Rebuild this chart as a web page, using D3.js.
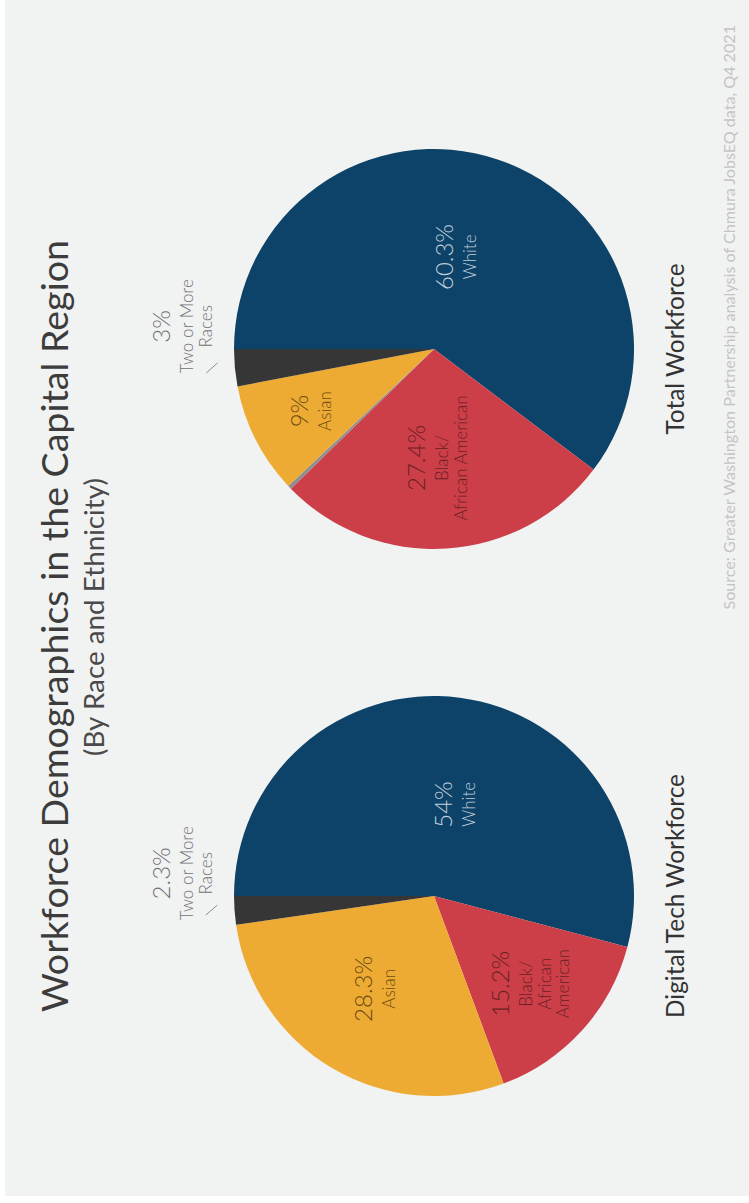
<!DOCTYPE html>
<html>
<head>
<meta charset="utf-8">
<script src="https://cdn.jsdelivr.net/npm/d3@7"></script>
<style>
  html, body { margin: 0; padding: 0; background: #ffffff; }
  svg { display: block; }
</style>
</head>
<body>
<svg id="chart"></svg>
<script>
// ---- data ----
const categories = ["White", "Black/African American", "Other", "Asian", "Two or More Races"];
const digitalTechValues = [54, 15.2, 0, 28.3, 2.3];
const totalWorkforceValues = [60.3, 27.4, 0.3, 9, 3];
const pieTitles = ["Digital Tech Workforce", "Total Workforce"];
const digitalTechLabelLines = [["White"], ["Black/", "African", "American"], [], ["Asian"], ["Two or More", "Races"]];
const totalWorkforceLabelLines = [["White"], ["Black/", "African American"], [], ["Asian"], ["Two or More", "Races"]];
const chartTitle = "Workforce Demographics in the Capital Region";
const chartSubtitle = "(By Race and Ethnicity)";
const sourceNote = "Source: Greater Washington Partnership analysis of Chmura JobsEQ data, Q4 2021";

// ---- styling ----
const W = 749, H = 1203;          // page size
const PW = H, PH = W;             // the poster is laid out sideways
const colors = {
  "White": "#0d4369",
  "Black/African American": "#cc3f48",
  "Other": "#8f8f8f",
  "Asian": "#eeab34",
  "Two or More Races": "#363636"
};
const labelColors = {
  "White": "#c3cfdc",
  "Black/African American": "#6a1f25",
  "Asian": "#6a4a12",
  "Two or More Races": "#6f7072"
};
// where each inside label sits: share of the radius, and a nudge off the slice's mid-angle
const labelPlacement = [
  { "White": { r: 0.47, da: 0.10 }, "Black/African American": { r: 0.653, da: 0 }, "Asian": { r: 0.55, da: 0.03 } },
  { "White": { r: 0.4725, da: -0.094 }, "Black/African American": { r: 0.545, da: 0.031 }, "Asian": { r: 0.69, da: 0.005 } }
];
const FONT = "Lato, 'Open Sans', sans-serif";

const svg = d3.select("#chart").attr("width", W).attr("height", H);

// rotate the whole poster a quarter turn counter-clockwise
const g = svg.append("g").attr("transform", `translate(0,${H}) rotate(-90)`);

g.append("rect")
  .attr("x", 7).attr("y", 5)
  .attr("width", PW - 7).attr("height", PH - 5)
  .attr("fill", "#f1f2f2");

function fitText(sel, target) {
  const node = sel.node();
  const fs = parseFloat(sel.attr("font-size"));
  const len = node.getComputedTextLength();
  const size = fs * target / len;
  sel.attr("font-size", size.toFixed(2));
  return size;
}

// titles
const title = g.append("text")
  .attr("x", 577).attr("y", 68)
  .attr("text-anchor", "middle")
  .attr("font-family", FONT).attr("font-size", 32)
  .attr("fill", "#3c3c3c")
  .text(chartTitle);
fitText(title, 772);

const subtitle = g.append("text")
  .attr("x", 586).attr("y", 104)
  .attr("text-anchor", "middle")
  .attr("font-family", FONT).attr("font-size", 21)
  .attr("fill", "#4a4a4a")
  .text(chartSubtitle);
fitText(subtitle, 278);

const source = g.append("text")
  .attr("x", 1178).attr("y", 735)
  .attr("text-anchor", "end")
  .attr("font-family", FONT).attr("font-size", 12)
  .attr("fill", "#c4c4c4")
  .text(sourceNote);
fitText(source, 585);

// ---- pies ----
const R = 200;
const centres = [[307, 434], [854, 434]];
const seriesList = [digitalTechValues, totalWorkforceValues];
const lineLists = [digitalTechLabelLines, totalWorkforceLabelLines];

const pie = d3.pie().sort(null).value(d => d.value);
const arc = d3.arc().innerRadius(0).outerRadius(R);

const PCT = 24, CAT = 17, GAP1 = 23, GAP2 = 18.5;

function drawLabelBlock(parent, cx, cy, pctText, lines, color) {
  const baselines = [0];
  lines.forEach((l, i) => baselines.push(GAP1 + GAP2 * i));
  const top = -PCT * 0.72, bottom = baselines[baselines.length - 1];
  const shift = cy - (top + bottom) / 2;
  const t = parent.append("g");
  t.append("text")
    .attr("x", cx).attr("y", shift)
    .attr("text-anchor", "middle")
    .attr("font-family", FONT).attr("font-weight", 300)
    .attr("font-size", PCT).attr("fill", color)
    .text(pctText);
  lines.forEach((l, i) => {
    t.append("text")
      .attr("x", cx).attr("y", shift + baselines[i + 1])
      .attr("text-anchor", "middle")
      .attr("font-family", FONT).attr("font-weight", 300)
      .attr("font-size", CAT)
      .attr("fill", color)
      .text(l);
  });
}

// caption size taken from the longer of the two captions
const probe = g.append("text")
  .attr("font-family", FONT).attr("font-size", 20)
  .text(pieTitles[0]);
const captionSize = fitText(probe, 244);
probe.remove();

seriesList.forEach((vals, k) => {
  const data = categories.map((c, i) => ({ category: c, value: vals[i], lines: lineLists[k][i] }));
  const [cx, cy] = centres[k];
  const pg = g.append("g").attr("transform", `translate(${cx},${cy})`);
  const arcs = pie(data);

  pg.selectAll("path")
    .data(arcs.filter(a => a.data.value > 0))
    .join("path")
    .attr("d", arc)
    .attr("fill", d => colors[d.data.category]);

  arcs.forEach(a => {
    const c = a.data.category;
    if (c === "Other" || a.data.value === 0) return;
    const pct = a.data.value + "%";
    const mid = (a.startAngle + a.endAngle) / 2;
    if (c === "Two or More Races") {
      // small slice: label sits outside with a short leader
      const ang = a.endAngle + 0.09;
      const lx = Math.sin(ang) * R * 1.2625, ly = -Math.cos(ang) * R * 1.2625;
      drawLabelBlock(pg, lx, ly, pct, a.data.lines, labelColors[c]);
      const m = mid - 2 * Math.PI;
      const p1 = [Math.sin(m + 0.03) * (R + 17), -Math.cos(m + 0.03) * (R + 17)];
      const p2 = [Math.sin(m - 0.011) * (R + 29), -Math.cos(m - 0.011) * (R + 29)];
      pg.append("line")
        .attr("x1", p1[0]).attr("y1", p1[1])
        .attr("x2", p2[0]).attr("y2", p2[1])
        .attr("stroke", "#8a8a8a").attr("stroke-width", 1);
    } else {
      const pl = labelPlacement[k][c];
      const ang = mid + pl.da, rr = R * pl.r;
      const lx = Math.sin(ang) * rr, ly = -Math.cos(ang) * rr;
      drawLabelBlock(pg, lx, ly, pct, a.data.lines, labelColors[c]);
    }
  });

  // caption under each pie
  g.append("text")
    .attr("x", cx).attr("y", 684)
    .attr("text-anchor", "middle")
    .attr("font-family", FONT).attr("font-size", captionSize.toFixed(2))
    .attr("fill", "#333333")
    .text(pieTitles[k]);
});
</script>
</body>
</html>
